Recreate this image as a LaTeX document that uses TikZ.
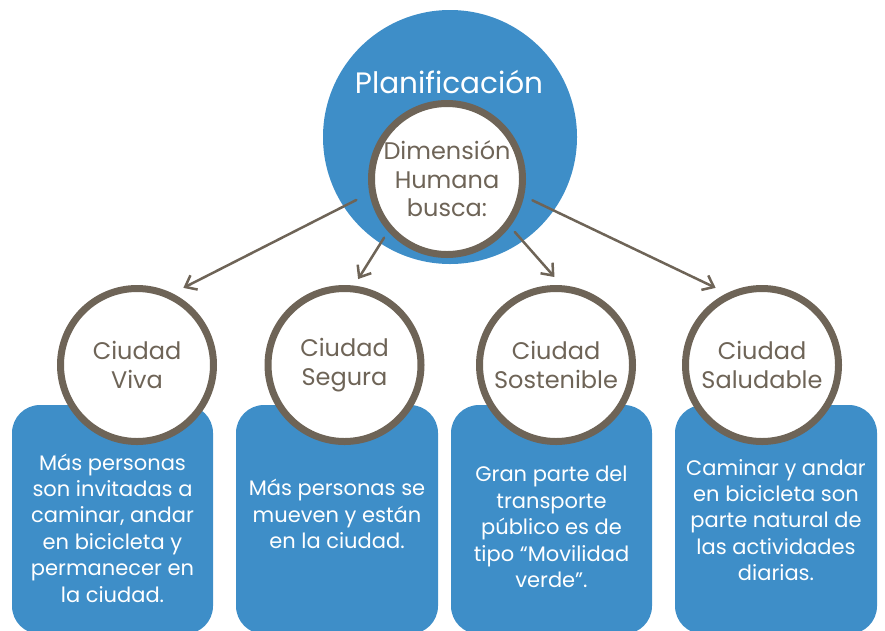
\documentclass[tikz,border=0pt]{standalone}
\usepackage{fontspec}
\setmainfont{Poppins}
\usetikzlibrary{arrows.meta}

\definecolor{planblue}{HTML}{3E8EC8}
\definecolor{ringbrown}{HTML}{6E6457}

\begin{document}
\begin{tikzpicture}[x=1pt, y=1pt, line cap=round, line join=round, >={Straight Barb[length=10pt,width=16pt]},
	ring/.style={circle, draw=ringbrown, line width=7pt, fill=white, text=ringbrown, minimum size=153pt, inner sep=0pt, align=center, font=\fontsize{24}{28.5}\selectfont},
	card/.style={fill=planblue, rounded corners=28pt},
	cardtext/.style={text=white, align=center, font=\fontsize{21}{26.4}\selectfont},
	link/.style={->, draw=ringbrown, line width=2.5pt}]

\useasboundingbox (0,0) rectangle (885,-630);
\clip (0,0) rectangle (885,-630);

%---------------------------------------------------------------------------------------------------
% Planificacion
\fill[planblue] (450,-137) circle (127);
\node[text=white, font=\fontsize{29.5}{31}\selectfont] (plan) at (449,-82) {Planificación};
\node[ring, minimum size=151pt] (hub) at (447,-179) {Dimensión\\Humana\\busca:};

%---------------------------------------------------------------------------------------------------
% cajas
\fill[card] (12,-405) rectangle (213,-634);
\fill[card] (236,-405) rectangle (438,-634);
\fill[card] (451,-405) rectangle (652,-634);
\fill[card] (675,-405) rectangle (877,-634);

\node[cardtext] (vivatext) at (112.5,-528) {Más personas\\son invitadas a\\caminar, andar\\en bicicleta y\\permanecer en\\la ciudad.};
\node[cardtext] (seguratext) at (337,-514) {Más personas se\\mueven y están\\en la ciudad.};
\node[cardtext] (sosttext) at (551.5,-527) {Gran parte del\\transporte\\público es de\\tipo “Movilidad\\verde”.};
\node[cardtext] (saludtext) at (776,-520) {Caminar y andar\\en bicicleta son\\parte natural de\\las actividades\\diarias.};

%---------------------------------------------------------------------------------------------------
% ciudades
\node[ring] (viva) at (137,-365) {Ciudad\\Viva};
\node[ring] (segura) at (344.5,-365) {Ciudad\\Segura};
\node[ring] (sost) at (556,-365) {Ciudad\\Sostenible};
\node[ring] (salud) at (762,-365) {Ciudad\\Saludable};

\draw[link] ([shift={(193:14)}]hub.193) -- ([shift={(59:10)}]viva.59);
\draw[link] ([shift={(223:7)}]hub.223) -- ([shift={(81:7)}]segura.81);
\draw[link] ([shift={(322:7)}]hub.322) -- ([shift={(91:8)}]sost.91);
\draw[link] ([shift={(346:9)}]hub.346) -- ([shift={(121:10)}]salud.121);

\end{tikzpicture}
\end{document}
